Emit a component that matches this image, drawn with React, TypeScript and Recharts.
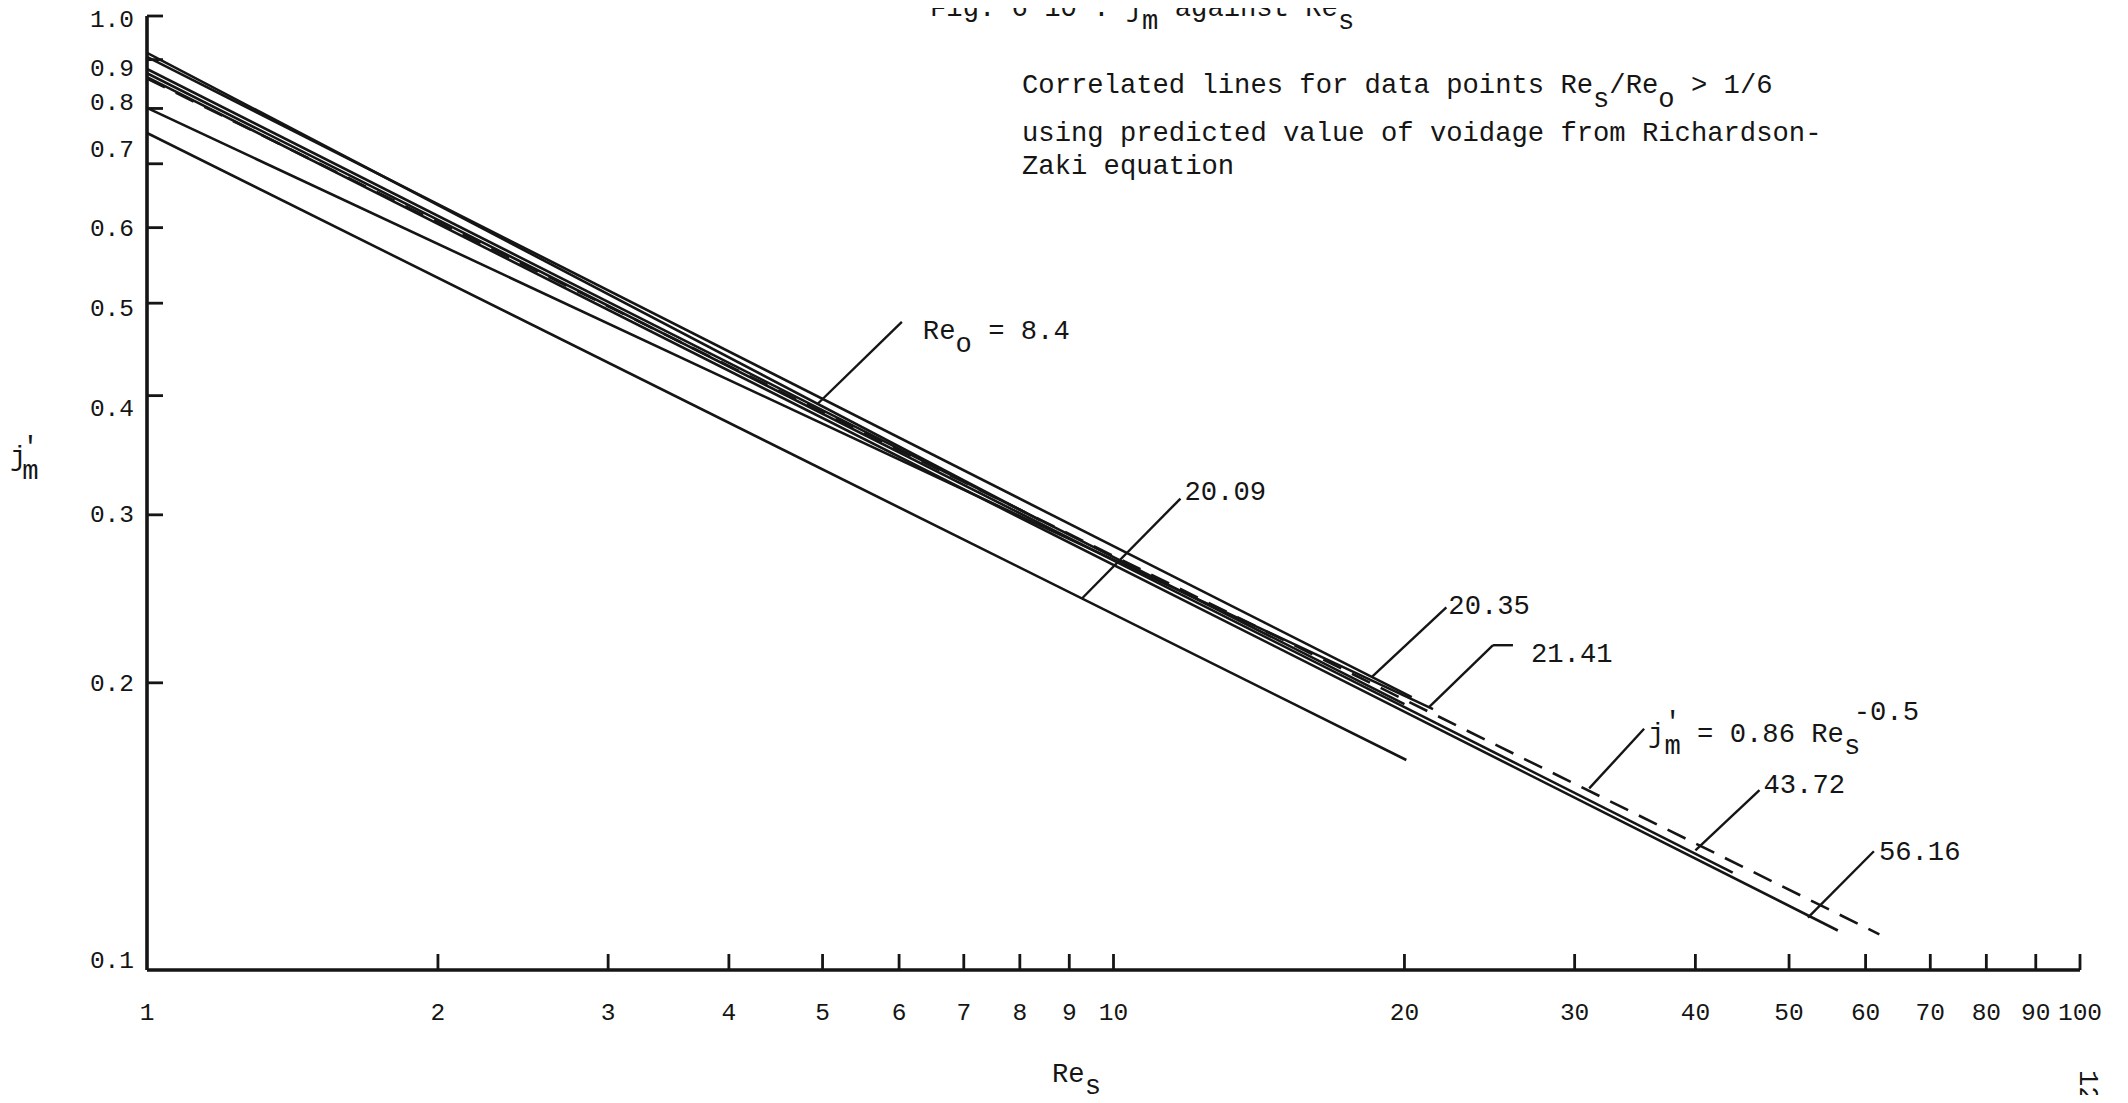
import React from 'react';
import { LineChart, Line, XAxis, YAxis, ReferenceLine, ReferenceDot } from 'recharts';

// Correlated lines j'_m against Re_s, each drawn from Re_s = 1 up to the end of its data range
const lineEndReS = [8.4, 20.09, 21.41, 20.35, 20.0, 43.72, 56.16];
const lineStartJm = [0.915, 0.754, 0.801, 0.906, 0.88, 0.871, 0.863];
const lineEndJm = [0.296, 0.166, 0.1877, 0.1932, 0.19, 0.1265, 0.11];

// Overall correlation j'_m = 0.86 Re_s^-0.5 (dashed)
const fitReS = [1, 62];
const fitJm = [0.86, 0.109];

// Axis ticks
const xTicks = [1, 2, 3, 4, 5, 6, 7, 8, 9, 10, 20, 30, 40, 50, 60, 70, 80, 90, 100];
const yTicks = [0.1, 0.2, 0.3, 0.4, 0.5, 0.6, 0.7, 0.8, 0.9, 1.0];

// Leader lines for the annotations: upper end (where the text sits) and foot on the curve
const leaderNames = ['re8', 'l2009', 'l2035', 'l2141', 'fit', 'l4372', 'l5616'];
const leaderTopReS = [6.04, 11.73, 22.1, 24.7, 35.4, 46.6, 61.2];
const leaderTopJm = [0.478, 0.312, 0.24, 0.219, 0.179, 0.1544, 0.1332];
const leaderFootReS = [4.94, 9.27, 18.52, 21.22, 31.06, 40.0, 52.3];
const leaderFootJm = [0.392, 0.245, 0.203, 0.1887, 0.155, 0.1335, 0.1135];
// short horizontal stub on the 21.41 leader
const stubReS = [24.7, 25.9];
const stubJm = [0.219, 0.219];

const INK = '#151515';
const MONO = '"Liberation Mono", "DejaVu Sans Mono", monospace';
const LABEL_SIZE = 27.2;
const TICK_SIZE = 24.5;
const LINE_W = 2.6;

const seriesData = lineEndReS.map((r, i) => [
  { x: 1, y: lineStartJm[i] },
  { x: r, y: lineEndJm[i] },
]);
const fitData = fitReS.map((x, i) => ({ x, y: fitJm[i] }));

// small vertical nudges of the typed y labels
const yLabelNudge: Record<string, number> = {
  '1.0': 2, '0.9': 8, '0.8': -7, '0.7': -15, '0.5': 4, '0.4': 12, '0.3': -1, '0.1': -11,
};

const YTick = (props: any) => {
  const { x, y, payload } = props;
  const v: number = payload.value;
  const text = v.toFixed(1);
  return (
    <g>
      {v > 0.1 && <line x1={x} x2={x + 16} y1={y} y2={y} stroke={INK} strokeWidth={2.8} />}
      <text
        x={x - 13}
        y={y + 8.5 + (yLabelNudge[text] || 0)}
        textAnchor="end"
        fontFamily={MONO}
        fontSize={TICK_SIZE}
        fill={INK}
      >
        {text}
      </text>
    </g>
  );
};

const XTick = (props: any) => {
  const { x, y, payload } = props;
  const v: number = payload.value;
  return (
    <g>
      {v > 1 && <line x1={x} x2={x} y1={y} y2={y - 16} stroke={INK} strokeWidth={2.8} />}
      <text x={x} y={y + 50} textAnchor="middle" fontFamily={MONO} fontSize={TICK_SIZE} fill={INK}>
        {v}
      </text>
    </g>
  );
};

const ADV = LABEL_SIZE * 0.6;

// text placed next to the upper end of each leader
const annotationText = (name: string, x: number, y: number) => {
  const common = { fontFamily: MONO, fontSize: LABEL_SIZE, fill: INK };
  switch (name) {
    case 're8':
      return (
        <text x={x + 21} y={y + 17} {...common}>
          Re<tspan dy={13}>o</tspan>
          <tspan dy={-13}> = 8.4</tspan>
        </text>
      );
    case 'l2009':
      return <text x={x + 4} y={y + 1} {...common}>20.09</text>;
    case 'l2035':
      return <text x={x + 2} y={y + 7} {...common}>20.35</text>;
    case 'l2141':
      return <text x={x + 18} y={y + 17} {...common}>21.41</text>;
    case 'fit':
      return (
        <text x={x + 4} y={y + 13} {...common}>
          j<tspan dy={-12}>'</tspan>
          <tspan dx={-ADV} dy={24}>m</tspan>
          <tspan dy={-12}> = 0.86 Re</tspan>
          <tspan dy={12}>s</tspan>
          <tspan dx={-ADV * 0.4} dy={-34}>-0.5</tspan>
        </text>
      );
    case 'l4372':
      return <text x={x + 4} y={y + 3} {...common}>43.72</text>;
    case 'l5616':
      return <text x={x + 5} y={y + 9} {...common}>56.16</text>;
    default:
      return null;
  }
};

const PageText = () => {
  const common = { fontFamily: MONO, fontSize: LABEL_SIZE, fill: INK };
  return (
    <svg
      width={2128}
      height={1103}
      style={{ position: 'absolute', left: -8, top: -8, pointerEvents: 'none' }}
    >
      <text x={930} y={16} {...common}>
        Fig. 6 10 : j<tspan dy={13}>m</tspan>
        <tspan dy={-13}> against Re</tspan>
        <tspan dy={13}>s</tspan>
      </text>
      <text x={1022} y={93} {...common}>
        Correlated lines for data points Re<tspan dy={14}>s</tspan>
        <tspan dy={-14}>/Re</tspan>
        <tspan dy={14}>o</tspan>
        <tspan dy={-14}> &gt; 1/6</tspan>
      </text>
      <text x={1022} y={141} {...common}>using predicted value of voidage from Richardson-</text>
      <text x={1022} y={174} {...common}>Zaki equation</text>
      <text x={10} y={465} {...common}>
        j<tspan dx={-4} dy={-10}>'</tspan>
        <tspan dx={-ADV} dy={24}>m</tspan>
      </text>
      <text x={1052} y={1082} {...common}>
        Re<tspan dy={12}>s</tspan>
      </text>
      <text x={2080} y={1070} transform="rotate(90 2080 1070)" {...common}>
        12
      </text>
    </svg>
  );
};

export default function App() {
  return (
    <div style={{ position: 'relative', width: 2112, height: 1087, background: '#fff' }}>
      <LineChart
        width={2112}
        height={1087}
        margin={{ top: 8, right: 40, bottom: 65, left: 0 }}
      >
        <XAxis
          type="number"
          dataKey="x"
          scale="log"
          domain={[1, 100]}
          ticks={xTicks}
          interval={0}
          allowDataOverflow
          height={60}
          tickSize={0}
          tickMargin={0}
          tickLine={false}
          tick={<XTick />}
          axisLine={{ stroke: INK, strokeWidth: 3.6 }}
        />
        <YAxis
          type="number"
          dataKey="y"
          scale="log"
          domain={[0.1, 1]}
          ticks={yTicks}
          interval={0}
          allowDataOverflow
          width={139}
          tickSize={0}
          tickMargin={0}
          tickLine={false}
          tick={<YTick />}
          axisLine={{ stroke: INK, strokeWidth: 3.6 }}
        />
        {seriesData.map((d, i) => (
          <Line
            key={`line-${i}`}
            data={d}
            dataKey="y"
            type="linear"
            stroke={INK}
            strokeWidth={LINE_W}
            dot={false}
            activeDot={false}
            isAnimationActive={false}
          />
        ))}
        <Line
          data={fitData}
          dataKey="y"
          type="linear"
          stroke={INK}
          strokeWidth={LINE_W}
          strokeDasharray="20 12"
          dot={false}
          activeDot={false}
          isAnimationActive={false}
        />
        {leaderNames.map((n, i) => (
          <ReferenceLine
            key={`leader-${n}`}
            segment={[
              { x: leaderTopReS[i], y: leaderTopJm[i] },
              { x: leaderFootReS[i], y: leaderFootJm[i] },
            ]}
            stroke={INK}
            strokeWidth={2.4}
            ifOverflow="visible"
          />
        ))}
        <ReferenceLine
          segment={[
            { x: stubReS[0], y: stubJm[0] },
            { x: stubReS[1], y: stubJm[1] },
          ]}
          stroke={INK}
          strokeWidth={2.4}
          ifOverflow="visible"
        />
        {leaderNames.map((n, i) => (
          <ReferenceDot
            key={`text-${n}`}
            x={n === 'l2141' ? stubReS[1] : leaderTopReS[i]}
            y={n === 'l2141' ? stubJm[1] : leaderTopJm[i]}
            r={0}
            fill="none"
            stroke="none"
            ifOverflow="visible"
            label={(p: any) => annotationText(n, p.viewBox.x, p.viewBox.y)}
          />
        ))}
      </LineChart>
      <PageText />
    </div>
  );
}
